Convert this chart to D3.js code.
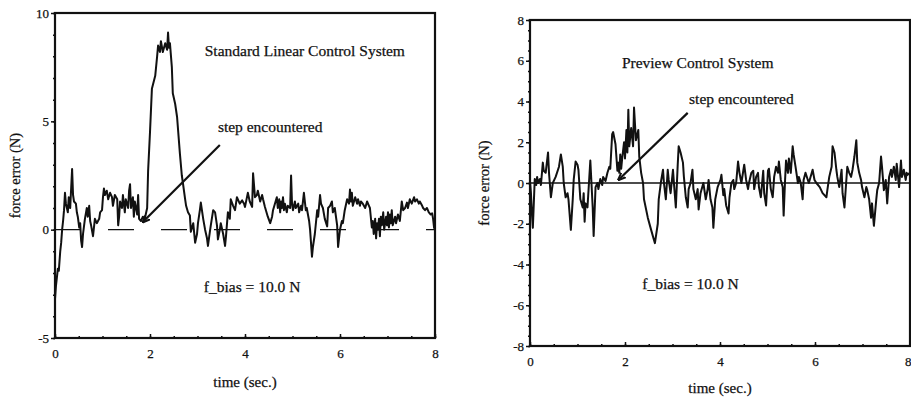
<!DOCTYPE html>
<html>
<head>
<meta charset="utf-8">
<script src="https://cdn.jsdelivr.net/npm/d3@7"></script>
<style>
  body { margin: 0; background: #fff; }
  text { font-family: "Liberation Serif", "DejaVu Serif", serif; fill: #111; stroke: #111; stroke-width: 0.25; }
</style>
</head>
<body>
<div id="canvas"></div>
<script>
// time (sec.) vs force error (N)
const standardError = [
  [0.00,-3.2],[0.02,-2.6],[0.04,-2.2],[0.06,-1.8],[0.08,-1.9],[0.11,-1.0],[0.13,-0.6],[0.15,0.0],[0.17,0.4],[0.19,0.9],
  [0.21,1.7],[0.23,1.2],[0.25,1.0],[0.27,0.8],[0.29,1.5],[0.32,1.0],[0.36,2.8],[0.38,1.6],[0.40,1.3],[0.44,1.2],
  [0.46,0.8],[0.48,0.6],[0.51,0.1],[0.53,0.3],[0.55,-0.5],[0.57,-0.8],[0.59,-0.2],[0.63,0.5],[0.67,1.0],[0.69,0.6],
  [0.72,1.1],[0.74,0.4],[0.76,0.2],[0.80,-0.3],[0.84,0.5],[0.88,0.3],[0.93,0.5],[0.95,0.8],[0.99,0.9],[1.01,1.5],
  [1.03,1.9],[1.05,1.6],[1.09,1.8],[1.12,1.4],[1.16,1.7],[1.20,1.5],[1.22,1.1],[1.26,1.6],[1.31,1.4],[1.33,0.2],
  [1.35,0.6],[1.37,1.3],[1.41,1.0],[1.43,1.6],[1.47,0.8],[1.49,1.4],[1.54,1.0],[1.56,1.8],[1.58,2.1],[1.60,1.0],
  [1.64,1.5],[1.66,0.6],[1.68,1.3],[1.73,0.7],[1.75,1.6],[1.77,0.5],[1.81,0.4],[1.85,0.6],[1.89,0.5],[1.94,1.0],
  [1.96,2.7],[2.00,4.5],[2.04,6.5],[2.11,7.1],[2.15,8.0],[2.17,8.5],[2.21,8.2],[2.23,8.7],[2.27,8.2],[2.32,8.6],
  [2.36,8.3],[2.38,9.1],[2.40,8.4],[2.42,8.6],[2.46,7.5],[2.48,6.3],[2.53,5.8],[2.57,5.2],[2.63,3.5],[2.67,2.5],
  [2.69,2.2],[2.74,1.4],[2.76,1.1],[2.80,0.8],[2.84,0.65],[2.86,-0.1],[2.91,0.3],[2.95,-0.6],[2.99,-0.2],[3.01,0.3],
  [3.05,0.9],[3.07,1.25],[3.12,0.5],[3.16,0.0],[3.20,-0.4],[3.22,-0.75],[3.26,-0.1],[3.28,0.2],[3.33,0.9],[3.37,0.8],
  [3.41,0.2],[3.43,-0.45],[3.47,0.0],[3.49,0.3],[3.54,-0.2],[3.58,-0.75],[3.60,-0.3],[3.64,0.8],[3.68,0.5],[3.70,1.4],
  [3.75,1.1],[3.79,0.9],[3.83,1.5],[3.85,1.4],[3.89,1.2],[3.94,1.35],[3.98,1.2],[4.00,1.05],[4.06,1.7],[4.10,1.3],
  [4.15,1.05],[4.17,2.6],[4.21,1.5],[4.25,1.6],[4.27,1.8],[4.32,1.3],[4.36,1.6],[4.38,1.4],[4.42,1.05],[4.48,0.6],
  [4.53,0.3],[4.57,0.6],[4.59,0.9],[4.63,1.2],[4.67,1.5],[4.69,1.0],[4.72,1.4],[4.74,0.8],[4.76,1.3],[4.78,1.0],
  [4.80,1.5],[4.82,0.9],[4.84,1.2],[4.88,0.8],[4.90,1.1],[4.95,1.0],[4.97,2.5],[4.99,1.2],[5.01,0.9],[5.05,1.3],
  [5.07,1.0],[5.12,1.2],[5.14,0.8],[5.18,1.1],[5.20,0.9],[5.24,1.7],[5.28,0.9],[5.30,1.0],[5.35,0.4],[5.37,0.0],
  [5.41,-1.25],[5.43,-0.8],[5.47,-0.2],[5.52,0.9],[5.54,0.6],[5.58,1.6],[5.60,1.2],[5.64,1.0],[5.68,0.5],[5.73,0.15],
  [5.75,1.0],[5.79,1.1],[5.83,1.3],[5.85,0.8],[5.89,1.0],[5.94,0.2],[5.96,-0.8],[6.00,0.0],[6.04,0.4],[6.06,0.3],
  [6.10,0.9],[6.15,1.4],[6.19,1.2],[6.21,1.85],[6.23,1.3],[6.25,1.7],[6.27,1.1],[6.32,1.5],[6.36,1.2],[6.38,1.4],
  [6.42,1.1],[6.44,1.3],[6.48,1.2],[6.53,1.0],[6.57,1.3],[6.61,1.1],[6.63,1.0],[6.67,0.1],[6.69,0.4],[6.71,-0.2],
  [6.74,0.5],[6.76,-0.4],[6.78,0.3],[6.80,0.0],[6.82,0.5],[6.84,-0.3],[6.86,0.6],[6.88,0.2],[6.91,0.8],[6.93,0.0],
  [6.97,0.6],[6.99,0.2],[7.01,0.8],[7.03,0.1],[7.05,0.7],[7.07,0.3],[7.09,0.9],[7.11,0.2],[7.16,0.6],[7.18,0.3],
  [7.22,0.7],[7.26,0.4],[7.30,1.3],[7.33,0.9],[7.37,1.0],[7.41,1.25],[7.43,1.0],[7.47,1.4],[7.51,1.2],[7.56,1.5],
  [7.58,1.3],[7.62,1.4],[7.66,1.2],[7.68,1.3],[7.73,1.1],[7.75,1.0],[7.79,0.9],[7.83,1.0],[7.87,0.8],[7.91,0.7],
  [7.94,0.75],[7.96,0.5],[7.98,0.1],[8.00,0.0]
];

const previewError = [
  [0.00,0.1],[0.02,-0.5],[0.04,-1.5],[0.06,-2.2],[0.08,-1.0],[0.10,0.2],[0.13,-0.1],[0.15,0.3],[0.17,0.0],[0.21,0.2],
  [0.23,-0.1],[0.27,1.0],[0.29,0.6],[0.33,0.5],[0.38,1.5],[0.40,0.5],[0.44,-0.7],[0.48,0.0],[0.54,0.3],[0.61,0.8],
  [0.65,1.4],[0.69,0.8],[0.71,0.0],[0.75,-0.7],[0.79,-0.5],[0.81,-0.8],[0.86,-2.3],[0.90,-0.8],[0.92,0.15],[0.96,1.05],
  [1.00,0.9],[1.02,0.64],[1.06,-0.8],[1.11,-1.2],[1.13,-0.5],[1.15,-1.9],[1.17,-1.0],[1.21,-1.2],[1.27,1.1],[1.32,-1.2],
  [1.34,-2.6],[1.38,-0.2],[1.42,0.0],[1.44,-0.3],[1.48,0.2],[1.52,-0.1],[1.54,0.3],[1.59,0.1],[1.63,0.5],[1.67,0.8],
  [1.69,0.7],[1.73,2.4],[1.75,2.5],[1.80,1.9],[1.84,0.6],[1.86,1.0],[1.88,0.5],[1.90,1.4],[1.92,0.7],[1.94,1.2],
  [1.98,2.0],[2.00,1.2],[2.03,2.6],[2.05,1.5],[2.07,3.6],[2.09,1.8],[2.13,2.7],[2.17,1.8],[2.19,3.7],[2.23,2.1],
  [2.28,2.6],[2.30,1.3],[2.34,0.5],[2.38,0.0],[2.40,-0.8],[2.48,-1.7],[2.55,-2.3],[2.61,-2.8],[2.63,-2.95],[2.69,-2.0],
  [2.71,-0.8],[2.76,0.1],[2.80,0.65],[2.82,0.0],[2.86,-0.8],[2.90,0.65],[2.92,0.15],[2.96,-0.5],[3.01,0.65],[3.03,0.0],
  [3.07,-1.2],[3.11,0.9],[3.13,1.8],[3.17,1.5],[3.22,1.0],[3.24,0.3],[3.28,-0.7],[3.32,-1.2],[3.34,-0.3],[3.38,0.0],
  [3.42,0.65],[3.44,-0.3],[3.49,-0.8],[3.53,-0.3],[3.55,-1.3],[3.59,-0.5],[3.65,0.0],[3.70,-0.8],[3.74,-0.3],[3.76,0.15],
  [3.80,-0.8],[3.84,-1.2],[3.86,-2.2],[3.90,-0.8],[3.95,-0.2],[4.01,0.15],[4.03,0.4],[4.07,-0.6],[4.09,-0.3],[4.13,-1.1],
  [4.18,-1.5],[4.20,-0.7],[4.24,0.0],[4.28,0.15],[4.30,-0.3],[4.34,0.0],[4.38,1.05],[4.41,0.5],[4.45,0.0],[4.49,0.6],
  [4.51,0.9],[4.55,0.15],[4.59,-0.3],[4.61,0.0],[4.66,0.5],[4.70,0.6],[4.72,-0.3],[4.76,0.3],[4.80,0.5],[4.82,-0.2],
  [4.86,-0.7],[4.91,0.6],[4.93,-0.5],[4.97,-1.1],[5.01,0.6],[5.03,0.7],[5.07,-0.3],[5.11,-0.7],[5.14,0.3],[5.18,0.8],
  [5.22,0.5],[5.24,1.05],[5.28,0.15],[5.32,-0.2],[5.34,-1.6],[5.37,0.15],[5.39,1.1],[5.43,0.5],[5.45,1.2],[5.49,0.5],
  [5.53,1.8],[5.55,1.4],[5.59,0.8],[5.64,0.0],[5.66,0.3],[5.70,0.0],[5.74,-0.8],[5.76,0.15],[5.80,0.5],[5.87,0.0],
  [5.95,0.65],[5.99,0.15],[6.03,0.0],[6.10,-0.2],[6.16,-0.5],[6.24,-0.7],[6.26,-0.35],[6.30,0.3],[6.35,0.8],[6.37,1.8],
  [6.41,1.5],[6.45,0.65],[6.47,0.3],[6.51,-0.2],[6.56,0.65],[6.58,-0.5],[6.62,-1.2],[6.66,0.15],[6.68,0.8],[6.72,0.5],
  [6.76,0.3],[6.79,0.65],[6.83,1.3],[6.87,2.1],[6.89,1.0],[6.93,0.5],[6.97,0.15],[6.99,-0.2],[7.04,-0.7],[7.08,-0.2],
  [7.10,-0.35],[7.14,-0.8],[7.18,-1.7],[7.20,-1.0],[7.24,-2.1],[7.29,-0.8],[7.31,-0.35],[7.35,0.0],[7.39,1.3],[7.41,0.8],
  [7.45,-0.35],[7.49,0.15],[7.52,-1.0],[7.56,0.3],[7.60,0.65],[7.62,0.3],[7.66,0.8],[7.70,0.15],[7.72,0.95],[7.77,-0.2],
  [7.81,1.1],[7.83,0.3],[7.87,0.65],[7.91,0.15],[7.93,0.5],[7.95,0.4],[8.00,0.5]
];

const timeTicks = [0, 2, 4, 6, 8];
const standardTicks = [-5, 0, 5, 10];
const previewTicks = [-8, -6, -4, -2, 0, 2, 4, 6, 8];

const svg = d3.select("#canvas").append("svg")
  .attr("width", 911)
  .attr("height", 400);

svg.append("defs").append("marker")
  .attr("id", "head")
  .attr("viewBox", "0 0 10 10")
  .attr("refX", 9).attr("refY", 5)
  .attr("markerWidth", 8).attr("markerHeight", 8)
  .attr("markerUnits", "userSpaceOnUse")
  .attr("orient", "auto")
  .append("path")
  .attr("d", "M0,1 L10,5 L0,9")
  .attr("fill", "none")
  .attr("stroke", "#111")
  .attr("stroke-width", 2.4);

function drawPanel(p) {
  const x = d3.scaleLinear().domain([0, 8]).range([p.left, p.right]);
  const y = d3.scaleLinear().domain(p.yDomain).range([p.bottom, p.top]);
  const g = svg.append("g");

  // minor ticks
  g.append("g")
    .attr("transform", `translate(${p.left},0)`)
    .call(d3.axisLeft(y).tickValues(d3.range(p.yDomain[0], p.yDomain[1] + 0.001, p.minor)).tickSize(2).tickFormat(""))
    .call(a => a.select(".domain").remove());
  g.append("g")
    .attr("transform", `translate(0,${p.bottom})`)
    .call(d3.axisBottom(x).tickValues(d3.range(0, 8.001, 0.5)).tickSize(-2).tickFormat(""))
    .call(a => a.select(".domain").remove());

  // major ticks + labels
  g.append("g")
    .attr("transform", `translate(${p.left},0)`)
    .call(d3.axisLeft(y).tickValues(p.yTicks).tickSize(4).tickPadding(2).tickFormat(d => String(d)))
    .call(a => a.select(".domain").remove())
    .call(a => a.selectAll("text").style("font-size", "13px").style("font-family", "Liberation Serif"));
  const xa = g.append("g")
    .attr("transform", `translate(0,${p.bottom})`)
    .call(d3.axisBottom(x).tickValues(timeTicks).tickSize(-4).tickPadding(11).tickFormat(d => String(d)))
    .call(a => a.select(".domain").remove())
    .call(a => a.selectAll("text").style("font-size", "13px").style("font-family", "Liberation Serif"));
  if (p.right > 905) {
    xa.selectAll("text").filter(d => d === 8).attr("text-anchor", "end").attr("dx", 911 - p.right);
  }
  g.selectAll(".tick line").attr("stroke", "#111").attr("stroke-width", 1.5);

  // frame
  g.append("rect")
    .attr("x", x(0)).attr("y", y(p.yDomain[1]))
    .attr("width", x(8) - x(0)).attr("height", y(p.yDomain[0]) - y(p.yDomain[1]))
    .attr("fill", "none").attr("stroke", "#111").attr("stroke-width", 2.2);

  // zero reference
  g.append("line")
    .attr("x1", x(0)).attr("x2", x(8))
    .attr("y1", y(0)).attr("y2", y(0))
    .attr("stroke", "#111").attr("stroke-width", 1.4)
    .attr("stroke-dasharray", p.dash);

  const line = d3.line().x(d => x(d[0])).y(d => y(d[1]));
  g.append("path")
    .datum(p.data)
    .attr("d", line)
    .attr("fill", "none")
    .attr("stroke", "#111")
    .attr("stroke-width", 2)
    .attr("stroke-linejoin", "round");

  // annotations
  const txt = (pos, s) => g.append("text")
    .attr("x", x(pos[0])).attr("y", y(pos[1]))
    .attr("text-anchor", "middle")
    .style("font-size", "15.5px")
    .text(s);
  txt(p.titlePos, p.title);
  txt(p.stepPos, "step encountered");
  txt(p.biasPos, "f_bias = 10.0 N");

  g.append("line")
    .attr("x1", x(p.arrow[0][0])).attr("y1", y(p.arrow[0][1]))
    .attr("x2", x(p.arrow[1][0])).attr("y2", y(p.arrow[1][1]))
    .attr("stroke", "#111").attr("stroke-width", 2.2)
    .attr("marker-end", "url(#head)");

  g.append("text")
    .attr("x", (x(0) + x(8)) / 2).attr("y", p.xLabelY)
    .attr("text-anchor", "middle")
    .style("font-size", "15px")
    .text("time (sec.)");
  g.append("text")
    .attr("transform", `translate(${p.yLabelX},${(y(p.yDomain[0]) + y(p.yDomain[1])) / 2 - p.yLabelShift}) rotate(-90)`)
    .attr("text-anchor", "middle")
    .style("font-size", "14.5px")
    .text("force error (N)");
}

drawPanel({
  data: standardError, left: 55, right: 435, top: 13, bottom: 338,
  yDomain: [-5, 10], yTicks: standardTicks, minor: 1, dash: "26,27",
  title: "Standard Linear Control System", titlePos: [5.26, 8.02],
  stepPos: [4.53, 4.51], biasPos: [4.15, -2.88],
  arrow: [[3.47, 3.91], [1.85, 0.35]],
  xLabelY: 387, yLabelX: 20, yLabelShift: 0
});

drawPanel({
  data: previewError, left: 530, right: 910, top: 20, bottom: 346,
  yDomain: [-8, 8], yTicks: previewTicks, minor: 0.5, dash: null,
  title: "Preview Control System", titlePos: [3.53, 5.64],
  stepPos: [4.45, 3.88], biasPos: [3.38, -5.2],
  arrow: [[3.32, 3.44], [1.86, 0.15]],
  xLabelY: 393, yLabelX: 489, yLabelShift: 0
});
</script>
</body>
</html>
